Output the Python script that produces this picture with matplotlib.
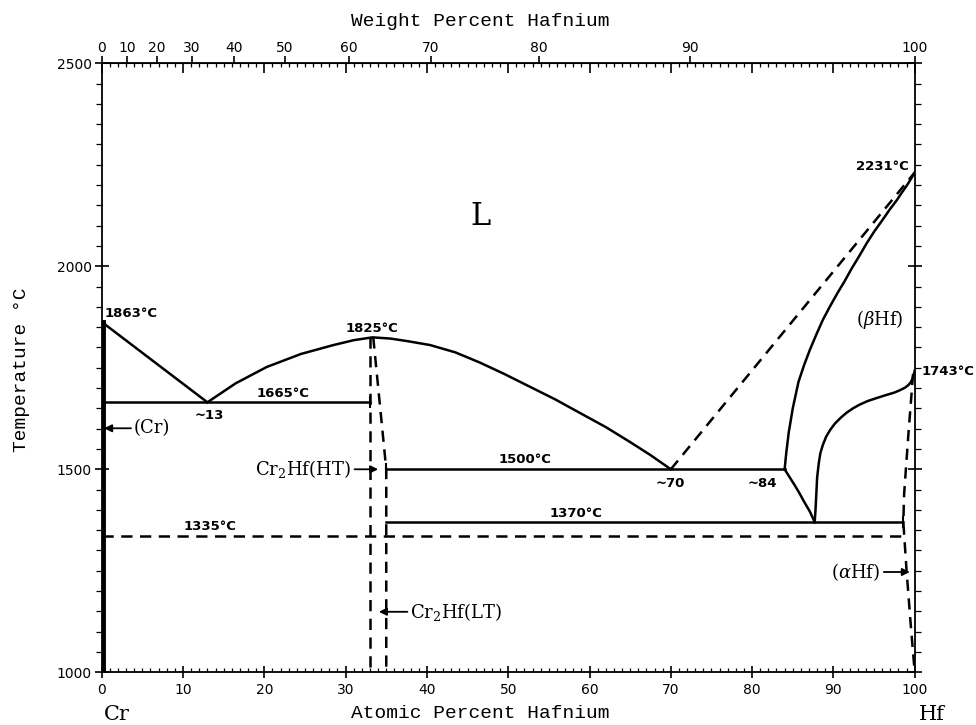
import numpy as np
import matplotlib
matplotlib.use("Agg")
import matplotlib.pyplot as plt
from matplotlib.ticker import MultipleLocator

plt.rcParams['mathtext.fontset'] = 'dejavuserif'

# ─── Data (atomic % Hf, temperature °C) ───
cr_liq_x = [0.0, 13.0]
cr_liq_t = [1863, 1665]

laves_liq_x = [13.0, 16.5, 20.3, 24.5, 28.5, 31.0, 33.3, 35.5, 37.5, 40.4, 43.5, 46.5,
               49.5, 52.7, 55.8, 58.8, 62.0, 65.0, 67.5, 70.0]
laves_liq_t = [1665, 1712, 1752, 1784, 1806, 1818, 1825, 1822, 1816, 1806, 1788, 1763,
               1735, 1703, 1672, 1639, 1604, 1567, 1535, 1500]

eut1665_x = [0.0, 33.0]
eut1665_t = [1665, 1665]

eut1500_x = [35.0, 84.0]
eut1500_t = [1500, 1500]

eutd1370_x = [35.0, 98.6]
eutd1370_t = [1370, 1370]

trans1335_x = [0.0, 98.6]
trans1335_t = [1335, 1335]

laves_left_x = [33.0, 33.0]
laves_left_t = [1825, 1000]
laves_right_x = [33.4, 35.0, 35.0]
laves_right_t = [1825, 1500, 1000]

bhf_liq_x = [70.0, 100.0]
bhf_liq_t = [1500, 2231]

bhf_sol_x = [84.0, 84.2, 84.5, 85.0, 85.7, 86.4, 87.1, 87.9, 88.7, 89.6, 90.5, 91.4, 92.2,
             93.2, 94.1, 95.0, 96.0, 96.9, 97.8, 98.4, 99.0, 99.5, 100.0]
bhf_sol_t = [1500, 1540, 1590, 1650, 1715, 1757, 1794, 1832, 1868, 1902, 1934, 1964, 1993,
             2026, 2057, 2085, 2113, 2139, 2163, 2181, 2198, 2214, 2231]

bhf_eutd_x = [84.0, 84.6, 85.2, 85.8, 86.4, 87.1, 87.7]
bhf_eutd_t = [1500, 1481, 1462, 1442, 1420, 1396, 1370]

ahf_x = [87.7, 87.8, 87.9, 88.0, 88.2, 88.4, 88.7, 89.1, 89.6, 90.2, 90.9, 91.6, 92.4, 93.2,
         94.2, 95.4, 96.5, 97.5, 98.2, 98.8, 99.2, 99.5, 99.7, 99.9, 100.0]
ahf_t = [1370, 1400, 1440, 1480, 1515, 1540, 1560, 1580, 1597, 1613, 1627, 1639, 1650, 1659,
         1668, 1676, 1683, 1689, 1695, 1701, 1707, 1714, 1722, 1734, 1743]

ahf_solv_x = [99.8, 99.2, 98.7, 98.6, 99.0, 99.5, 100.0]
ahf_solv_t = [1735, 1580, 1440, 1370, 1250, 1120, 1000]

cr_solv_x = [0.25, 0.25]
cr_solv_t = [1000, 1863]

wt_ticks = [0, 10, 20, 30, 40, 50, 60, 70, 80, 90, 100]

M_CR = 51.996
M_HF = 178.49


def at2wt(a):
    a = np.asarray(a, dtype=float)
    num = a * M_HF
    den = num + (100.0 - a) * M_CR
    return 100.0 * num / np.where(den == 0, 1, den)


def wt2at(w):
    w = np.asarray(w, dtype=float)
    num = w / M_HF
    den = num + (100.0 - w) / M_CR
    return 100.0 * num / np.where(den == 0, 1, den)


fig = plt.figure(figsize=(9.76, 7.25), dpi=100)
ax = fig.add_axes([0.1042, 0.0727, 0.8330, 0.8400])
ax.set_xlim(0, 100)
ax.set_ylim(1000, 2500)

LW = 1.8
DASH = (0, (4.5, 3))
k = "black"

ax.plot(cr_liq_x, cr_liq_t, color=k, lw=LW)
ax.plot(laves_liq_x, laves_liq_t, color=k, lw=LW)
ax.plot(eut1665_x, eut1665_t, color=k, lw=LW)
ax.plot(eut1500_x, eut1500_t, color=k, lw=LW)
ax.plot(eutd1370_x, eutd1370_t, color=k, lw=LW)
ax.plot(trans1335_x, trans1335_t, color=k, lw=LW, ls=DASH)
ax.plot(laves_left_x, laves_left_t, color=k, lw=LW, ls=DASH)
ax.plot(laves_right_x, laves_right_t, color=k, lw=LW, ls=DASH)
ax.plot(bhf_liq_x, bhf_liq_t, color=k, lw=LW, ls=DASH)
ax.plot(bhf_sol_x, bhf_sol_t, color=k, lw=LW)
ax.plot(bhf_eutd_x, bhf_eutd_t, color=k, lw=LW)
ax.plot(ahf_x, ahf_t, color=k, lw=LW)
ax.plot(ahf_solv_x, ahf_solv_t, color=k, lw=LW, ls=DASH)
ax.plot(cr_solv_x, cr_solv_t, color=k, lw=2.8)

# small end marks on invariant lines
ax.plot([33.0, 35.0, 98.6], [1665, 1500, 1370], ls="none", marker="|", ms=8, mew=1.5, color=k)

# ─── Labels ───
num_kw = dict(fontsize=9.5, family="DejaVu Sans", fontweight="bold", color=k)
ph_kw = dict(fontsize=13, family="DejaVu Serif", color=k)

ax.text(46.6, 2122, "L", fontsize=22, family="DejaVu Serif", ha="center", va="center")
ax.text(0.4, 1868, "1863°C", ha="left", va="bottom", **num_kw)
ax.text(13.2, 1632, "~13", ha="center", va="center", **num_kw)
ax.text(22.3, 1687, "1665°C", ha="center", va="center", **num_kw)
ax.text(33.3, 1848, "1825°C", ha="center", va="center", **num_kw)
ax.text(52.1, 1523, "1500°C", ha="center", va="center", **num_kw)
ax.text(69.9, 1466, "~70", ha="center", va="center", **num_kw)
ax.text(81.3, 1466, "~84", ha="center", va="center", **num_kw)
ax.text(58.3, 1392, "1370°C", ha="center", va="center", **num_kw)
ax.text(13.3, 1358, "1335°C", ha="center", va="center", **num_kw)
ax.text(96.0, 2245, "2231°C", ha="center", va="center", **num_kw)
ax.text(100.9, 1740, "1743°C", ha="left", va="center", clip_on=False, **num_kw)

ax.text(95.7, 1868, r"($\beta$Hf)", ha="center", va="center", **ph_kw)

arr = dict(arrowstyle="-|>", lw=1.3, color=k, mutation_scale=11, shrinkA=0, shrinkB=0)
ax.text(3.9, 1601, "(Cr)", ha="left", va="center", **ph_kw)
ax.annotate("", xy=(0.3, 1601), xytext=(3.6, 1601), arrowprops=arr)

ax.text(30.6, 1500, r"Cr$_2$Hf(HT)", ha="right", va="center", **ph_kw)
ax.annotate("", xy=(34.0, 1500), xytext=(31.1, 1500), arrowprops=arr)

ax.text(37.9, 1149, r"Cr$_2$Hf(LT)", ha="left", va="center", **ph_kw)
ax.annotate("", xy=(34.1, 1149), xytext=(37.6, 1149), arrowprops=arr)

ax.text(95.7, 1247, r"($\alpha$Hf)", ha="right", va="center", **ph_kw)
ax.annotate("", xy=(99.4, 1247), xytext=(96.2, 1247), arrowprops=arr)

# ─── Axes styling ───
for s in ax.spines.values():
    s.set_linewidth(1.3)

ax.xaxis.set_major_locator(MultipleLocator(10))
ax.xaxis.set_minor_locator(MultipleLocator(1))
ax.yaxis.set_major_locator(MultipleLocator(500))
ax.yaxis.set_minor_locator(MultipleLocator(50))
ax.tick_params(axis="x", which="major", direction="inout", length=9, width=1.2, top=True,
               labelsize=10, pad=3)
ax.tick_params(axis="x", which="minor", direction="in", length=3, width=0.9, top=True)
ax.tick_params(axis="y", which="major", direction="inout", length=10, width=1.2, right=True,
               labelsize=10, pad=2)
ax.tick_params(axis="y", which="minor", direction="out", length=4, width=0.9, right=True)

# top atomic-percent major ticks point inward only
for t in ax.xaxis.get_major_ticks():
    t.tick2line.set_marker(3)  # TICKDOWN
    t.tick2line.set_markersize(7)

secax = ax.secondary_xaxis("top", functions=(at2wt, wt2at))
secax.set_xticks(wt_ticks)
secax.tick_params(axis="x", which="major", direction="out", length=5, width=1.2, labelsize=10, pad=1)
secax.xaxis.set_minor_locator(plt.NullLocator())

fig.text(0.492, 0.970, "Weight Percent Hafnium", ha="center", va="center",
         fontsize=14, family="Liberation Mono")
fig.text(0.492, 0.016, "Atomic Percent Hafnium", ha="center", va="center",
         fontsize=14, family="Liberation Mono")
fig.text(0.0225, 0.49, "Temperature °C", ha="center", va="center", rotation=90,
         fontsize=14, family="Liberation Mono")
fig.text(0.120, 0.014, "Cr", ha="center", va="center", fontsize=15, family="DejaVu Serif")
fig.text(0.955, 0.014, "Hf", ha="center", va="center", fontsize=15, family="DejaVu Serif")

fig.savefig("out.png", dpi=100)
